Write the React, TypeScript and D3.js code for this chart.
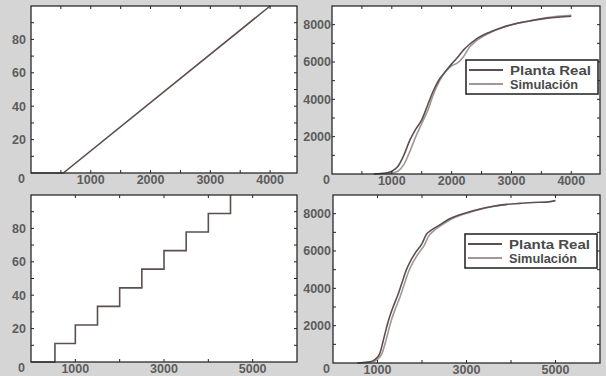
import { useMemo } from 'react';
import * as d3 from 'd3';

// top-left: linear ramp
const rampX = [0, 540, 4000];
const rampY = [0, 0, 100];

// bottom-left: staircase
const stairX = [0, 540, 1000, 1500, 2000, 2500, 3000, 3500, 4000, 4500];
const stairY = [0, 11.1, 22.2, 33.3, 44.4, 55.6, 66.7, 77.8, 88.9, 100];

// top-right: Planta Real vs Simulación
const realTopX = [700, 900, 1000, 1100, 1200, 1300, 1400, 1500, 1600, 1700, 1800, 1900, 2000, 2100, 2200, 2300, 2400, 2600, 2800, 3000, 3300, 3600, 4000];
const realTopY = [0, 50, 150, 400, 1000, 1800, 2400, 2900, 3700, 4500, 5100, 5500, 5900, 6250, 6650, 6950, 7200, 7550, 7800, 8000, 8200, 8350, 8450];
const simTopX = [700, 1000, 1100, 1200, 1300, 1400, 1500, 1600, 1700, 1800, 1900, 2000, 2100, 2200, 2300, 2400, 2600, 2800, 3000, 3300, 3600, 4000];
const simTopY = [0, 50, 150, 500, 1200, 2000, 2700, 3400, 4300, 5000, 5500, 5800, 5950, 6300, 6800, 7100, 7500, 7800, 8000, 8200, 8380, 8500];

// bottom-right: Planta Real vs Simulación
const realBotX = [550, 800, 950, 1050, 1150, 1250, 1350, 1450, 1550, 1650, 1750, 1850, 2000, 2100, 2200, 2400, 2600, 2800, 3000, 3300, 3600, 3900, 4200, 4500, 4800, 5000];
const realBotY = [0, 50, 200, 500, 1400, 2300, 3000, 3600, 4300, 5000, 5500, 5900, 6400, 6900, 7100, 7400, 7700, 7900, 8050, 8250, 8400, 8500, 8550, 8600, 8620, 8700];
const simBotX = [550, 850, 1000, 1100, 1200, 1300, 1400, 1500, 1600, 1700, 1800, 1900, 2050, 2150, 2250, 2450, 2650, 2850, 3050, 3300, 3600, 3900];
const simBotY = [0, 50, 200, 500, 1300, 2200, 2900, 3500, 4200, 4900, 5400, 5800, 6300, 6800, 7050, 7400, 7700, 7900, 8050, 8220, 8380, 8480];

const legendNames = ['Planta Real', 'Simulación'];
const legendWidths = [81, 68];

const DARK = '#5e4f4f';
const LIGHT = '#a39696';
const FONT = "'Liberation Sans', Arial, sans-serif";

interface Series { xs: number[]; ys: number[]; color: string; curve: d3.CurveFactory }
interface PanelProps {
  left: number; top: number; right: number; bottom: number;
  xMax: number; yMax: number;
  xMinor: number; xMajor: number; xFirst: number;
  yMinor: number; yMajor: number;
  labelGap: number;
  series: Series[];
  legend?: { x: number; y: number };
}

const Panel = (p: PanelProps) => {
  const x = d3.scaleLinear().domain([0, p.xMax]).range([p.left, p.right]);
  const y = d3.scaleLinear().domain([0, p.yMax]).range([p.bottom, p.top]);
  const xt = d3.range(p.xMinor, p.xMax, p.xMinor);
  const yt = d3.range(p.yMinor, p.yMax, p.yMinor);
  const xl = d3.range(p.xFirst, p.xMax, p.xMajor);
  const yl = d3.range(p.yMajor, p.yMax, p.yMajor);
  const tl = 3;
  return (
    <g>
      <rect x={p.left} y={p.top} width={p.right - p.left} height={p.bottom - p.top} fill="#fff" />
      {p.series.map((s, i) => {
        const line = d3.line<number>()
          .x((_, j) => x(s.xs[j]))
          .y((d) => y(d))
          .curve(s.curve);
        return <path key={i} d={line(s.ys) || ''} fill="none" stroke={s.color} strokeWidth={1.6} />;
      })}
      {xt.map((t) => (
        <g key={'x' + t}>
          <line x1={x(t)} x2={x(t)} y1={p.bottom} y2={p.bottom - tl} stroke="#222" />
          <line x1={x(t)} x2={x(t)} y1={p.top} y2={p.top + tl} stroke="#222" />
        </g>
      ))}
      {yt.map((t) => (
        <g key={'y' + t}>
          <line x1={p.left} x2={p.left + tl} y1={y(t)} y2={y(t)} stroke="#222" />
          <line x1={p.right} x2={p.right - tl} y1={y(t)} y2={y(t)} stroke="#222" />
        </g>
      ))}
      <rect x={p.left} y={p.top} width={p.right - p.left} height={p.bottom - p.top} fill="none" stroke="#2a2a2a" strokeWidth={1.3} />
      <g fontFamily={FONT} fontSize={12.5} fontWeight="bold" fill="#5c5c5c">
        {xl.map((t) => (
          <text key={'xl' + t} x={x(t)} y={p.bottom + 11} textAnchor="middle">{t}</text>
        ))}
        {yl.map((t) => (
          <text key={'yl' + t} x={p.left - p.labelGap} y={y(t)} dy="0.35em" textAnchor="end">{t}</text>
        ))}
        <text x={p.left - p.labelGap - 1} y={p.bottom + 10} textAnchor="end">0</text>
      </g>
      {p.legend && (
        <g fontFamily={FONT}>
          <rect x={p.legend.x} y={p.legend.y} width={132} height={34} fill="#fff" stroke="#1e1e1e" strokeWidth={1.5} />
          {legendNames.map((name, i) => (
            <g key={name}>
              <line x1={p.legend!.x + 3} x2={p.legend!.x + 37} y1={p.legend!.y + 10 + i * 14} y2={p.legend!.y + 10 + i * 14}
                stroke={i === 0 ? DARK : LIGHT} strokeWidth={1.8} />
              <text x={p.legend!.x + 44} y={p.legend!.y + 10 + i * 14} dy="0.36em" fontSize={12.5} fontWeight="bold"
                fill="#4a4a4a" textLength={legendWidths[i]} lengthAdjust="spacingAndGlyphs">{name}</text>
            </g>
          ))}
        </g>
      )}
    </g>
  );
};

const App = () => {
  const panels = useMemo<PanelProps[]>(() => [
    {
      left: 31, top: 6, right: 297, bottom: 173, xMax: 4450, yMax: 100,
      xMinor: 500, xMajor: 1000, xFirst: 1000, yMinor: 10, yMajor: 20, labelGap: 5,
      series: [{ xs: rampX, ys: rampY, color: DARK, curve: d3.curveLinear }],
    },
    {
      left: 332, top: 6, right: 600, bottom: 174, xMax: 4480, yMax: 9000,
      xMinor: 500, xMajor: 1000, xFirst: 1000, yMinor: 1000, yMajor: 2000, labelGap: 1,
      series: [
        { xs: simTopX, ys: simTopY, color: LIGHT, curve: d3.curveMonotoneX },
        { xs: realTopX, ys: realTopY, color: DARK, curve: d3.curveMonotoneX },
      ],
      legend: { x: 466, y: 60 },
    },
    {
      left: 31, top: 195, right: 297, bottom: 362, xMax: 6000, yMax: 100,
      xMinor: 1000, xMajor: 2000, xFirst: 1000, yMinor: 10, yMajor: 20, labelGap: 5,
      series: [{ xs: stairX, ys: stairY, color: DARK, curve: d3.curveStepAfter }],
    },
    {
      left: 333, top: 195, right: 600, bottom: 363, xMax: 6000, yMax: 9000,
      xMinor: 1000, xMajor: 2000, xFirst: 1000, yMinor: 1000, yMajor: 2000, labelGap: 2,
      series: [
        { xs: simBotX, ys: simBotY, color: LIGHT, curve: d3.curveMonotoneX },
        { xs: realBotX, ys: realBotY, color: DARK, curve: d3.curveMonotoneX },
      ],
      legend: { x: 465, y: 234 },
    },
  ], []);
  return (
    <svg width={606} height={376} style={{ position: 'fixed', left: 0, top: 0 }}>
      <rect width={606} height={376} fill="#d5d5d5" />
      {panels.map((p, i) => <Panel key={i} {...p} />)}
    </svg>
  );
};

export default App;
